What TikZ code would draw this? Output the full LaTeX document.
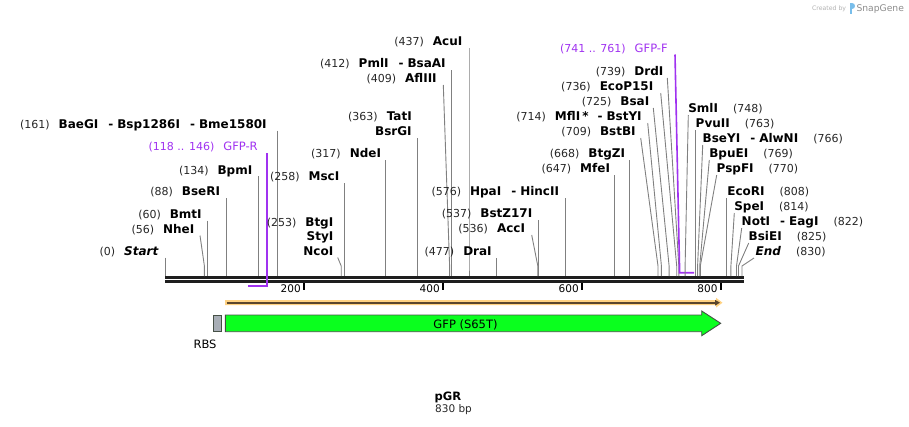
\documentclass[tikz,border=0pt]{standalone}
\usepackage{fontspec}
\setmainfont{DejaVu Sans}
\usetikzlibrary{arrows.meta}
\definecolor{cutgray}{RGB}{128,128,128}
\definecolor{primer}{RGB}{160,50,240}
\definecolor{bbcol}{RGB}{30,30,30}
\definecolor{gfpgreen}{RGB}{10,255,30}
\definecolor{gfpedge}{RGB}{70,80,70}
\definecolor{orangebar}{RGB}{255,210,130}
\definecolor{brownline}{RGB}{90,70,45}
\definecolor{rbsgray}{RGB}{168,174,182}
\definecolor{logoblue}{RGB}{120,190,235}
\newcommand\numfont{\fontsize{11}{13}\selectfont\color{black!85}}
\newcommand\namefont{\fontsize{12}{14}\selectfont\bfseries}
\newcommand\sepr{\hspace{10pt}-\hspace{4pt}}
\newcommand\labL[5]{\node[lab,anchor=base east] (#1) at (#2,#3) {{\numfont(#4)}\hspace{9pt}{\namefont #5}};}
\newcommand\labR[5]{\node[lab,anchor=base west] (#1) at (#2,#3) {{\namefont #4}\hspace{15pt}{\numfont(#5)}};}
\newcommand\cutline[4]{\coordinate (#1-t) at (#2,#3); \coordinate (#1-b) at (#4,266); \coordinate (#1-s) at (#4,276); \draw[cut] (#1-t) -- (#1-b) -- (#1-s);}
\begin{document}
\begin{tikzpicture}[x=1pt,y=-1pt,
  lab/.style={inner sep=0pt,outer sep=0pt},
  cut/.style={draw=cutgray,line width=0.9pt},
  prim/.style={draw=primer,line width=1.6pt},
  bbline/.style={draw=bbcol},
  tickmark/.style={draw=black,line width=2pt}]
\useasboundingbox (0,0) rectangle (909,426);

% logo
\node[lab,anchor=base west,text=black!30] (cb) at (812,10.5) {\fontsize{6.2}{7}\selectfont Created by};
\fill[logoblue] (849.5,3) rectangle (852.3,13.5);
\fill[logoblue] (852.3,3) .. controls (856,3) and (856,8.5) .. (852.3,8.5) -- cycle;
\node[lab,anchor=base west,text=black!45] (sg) at (856.5,11.5) {\fontsize{9.2}{10}\selectfont SnapGene};

% backbone
\coordinate (bb1l) at (165,277.3); \coordinate (bb1r) at (744,277.3);
\coordinate (bb2l) at (165,281.5); \coordinate (bb2r) at (744,281.5);
\draw[bbline,line width=2.7pt] (bb1l) -- (bb1r);
\draw[bbline,line width=2.4pt] (bb2l) -- (bb2r);

% ticks
\foreach \v/\xx in {200/304.2,400/443.2,600/582.2,800/721.0}{
  \coordinate (tk\v a) at (\xx,283); \coordinate (tk\v b) at (\xx,289.5);
  \draw[tickmark] (tk\v a) -- (tk\v b);
  \node[lab,anchor=base east] (tl\v) at (\xx-3.5,292.5) {\fontsize{10.5}{12}\selectfont \v};
}

% left labels
\labL{start}{158.3}{255.7}{0}{\itshape Start}
\cutline{start}{165.5}{257.5}{165.5}
\labL{nhe}{194.3}{233.3}{56}{NheI}
\cutline{nhe}{200}{235.5}{204.4}
\labL{bmt}{201.7}{218.3}{60}{BmtI}
\cutline{bmt}{207.2}{220.5}{207.2}
\labL{bser}{220}{195.7}{88}{BseRI}
\cutline{bser}{226.6}{198}{226.6}
\labL{bpm}{252.3}{174}{134}{BpmI}
\cutline{bpm}{258.6}{176}{258.6}
\labL{baeg}{266.7}{128.3}{161}{BaeGI\sepr Bsp1286I\sepr Bme1580I}
\cutline{baeg}{277.3}{130.5}{277.3}

% GFP-R primer
\node[lab,anchor=base east,text=primer] (gfpr) at (257.7,150.7) {{\fontsize{11}{13}\selectfont(118 .. 146)}\hspace{9pt}{\fontsize{11.5}{13}\selectfont GFP-R}};
\coordinate (gfpr-t) at (266.7,153.3); \coordinate (gfpr-c) at (266.7,286); \coordinate (gfpr-e) at (247.5,286);
\draw[prim] (gfpr-t) -- (gfpr-c) -- (gfpr-e);

\labL{btg}{333.3}{226}{253}{BtgI}
\node[lab,anchor=base east] (sty) at (333.3,240.7) {\namefont StyI};
\node[lab,anchor=base east] (nco) at (333.3,255.7) {\namefont NcoI};
\cutline{nco}{337.7}{257.5}{341.2}
\labL{msc}{339.3}{180.7}{258}{MscI}
\cutline{msc}{344.7}{183}{344.7}
\labL{nde}{381}{157.7}{317}{NdeI}
\cutline{nde}{385.7}{160}{385.7}
\labL{tat}{411.7}{120.7}{363}{TatI}
\node[lab,anchor=base east] (bsrg) at (411.7,135.7) {\namefont BsrGI};
\cutline{bsrg}{417.6}{138}{417.6}
\labL{afl}{436.7}{82.7}{409}{AflIII}
\cutline{afl}{443.3}{85}{449.6}
\labL{pml}{445.7}{67.7}{412}{PmlI\sepr BsaAI}
\cutline{pml}{451.7}{70}{451.7}
\labL{acu}{462.3}{45.7}{437}{AcuI}
\cutline{acu}{469}{48}{469}
\labL{dra}{491.7}{255.7}{477}{DraI}
\cutline{dra}{496.8}{258}{496.8}
\labL{acc}{525}{232.7}{536}{AccI}
\cutline{acc}{531.7}{235}{537.8}
\labL{bstz}{532.3}{217.3}{537}{BstZ17I}
\cutline{bstz}{538.5}{220}{538.5}
\labL{hpa}{559}{195.7}{576}{HpaI\sepr HincII}
\cutline{hpa}{565.6}{198}{565.6}
\labL{mfe}{610}{172.3}{647}{MfeI}
\cutline{mfe}{614.9}{175}{614.9}
\labL{btgz}{625}{157.3}{668}{BtgZI}
\cutline{btgz}{629.5}{160}{629.5}
\labL{bstb}{635.7}{135.7}{709}{BstBI}
\cutline{bstb}{640.7}{138}{658}
\labL{mfl}{641.7}{120.7}{714}{MflI\,*\hspace{9pt}-\hspace{4pt}BstYI}
\cutline{mfl}{647.7}{123}{661.4}
\labL{bsa}{649.3}{105.7}{725}{BsaI}
\cutline{bsa}{653.3}{108}{669.1}
\labL{ecop}{653.3}{90.7}{736}{EcoP15I}
\cutline{ecop}{660.7}{93}{676.7}
\labL{drd}{663.3}{75.7}{739}{DrdI}
\cutline{drd}{667.3}{78}{678.8}

% GFP-F primer
\node[lab,anchor=base east,text=primer] (gfpf) at (667.7,52.3) {{\fontsize{11}{13}\selectfont(741 .. 761)}\hspace{9pt}{\fontsize{11.5}{13}\selectfont GFP-F}};
\coordinate (gfpf-t) at (675,54.5); \coordinate (gfpf-b) at (679.5,266); \coordinate (gfpf-c) at (679.5,272.7); \coordinate (gfpf-e) at (694,272.7);
\draw[prim] (gfpf-t) -- (gfpf-b) -- (gfpf-c) -- (gfpf-e);

% right labels
\labR{sml}{688.3}{112.3}{SmlI}{748}
\cutline{sml}{688.3}{115}{685.1}
\labR{pvu}{695.7}{127.3}{PvuII}{763}
\cutline{pvu}{695.5}{130}{695.5}
\labR{bsey}{702.7}{142.3}{BseYI\sepr AlwNI}{766}
\cutline{bsey}{702.7}{145}{697.6}
\labR{bpue}{709.3}{157.3}{BpuEI}{769}
\cutline{bpue}{709.3}{160}{699.7}
\labR{pspf}{716.7}{172.3}{PspFI}{770}
\cutline{pspf}{716.7}{175}{700.3}
\labR{ecor}{727.3}{195.7}{EcoRI}{808}
\cutline{ecor}{726.7}{198}{726.7}
\labR{spe}{734.3}{210.7}{SpeI}{814}
\cutline{spe}{734.3}{213}{730.9}
\labR{not}{741.7}{225.7}{NotI\sepr EagI}{822}
\cutline{not}{741.7}{228}{736.5}
\labR{bsie}{748.7}{240.7}{BsiEI}{825}
\cutline{bsie}{748.7}{243}{738.5}
\labR{endl}{755.7}{255.7}{\itshape End}{830}
\cutline{endl}{754}{258}{742}

% orange ORF arrow
\fill[orangebar] (225,300.2) -- (716,300.2) -- (716,297.8) -- (722.5,302.7) -- (716,307.6) -- (716,305.2) -- (225,305.2) -- cycle;
\coordinate (orfa) at (226.5,302.7); \coordinate (orfb) at (720,302.7);
\draw[brownline,line width=1.8pt,-{Triangle[length=5pt,width=5.5pt]}] (orfa) -- (orfb);

% RBS
\draw[fill=rbsgray,draw=gfpedge,line width=0.9pt] (213.3,315.3) rectangle (221.3,331.3);
\node[lab,anchor=base] (rbs) at (205,348.3) {\fontsize{11.5}{13}\selectfont RBS};

% GFP feature
\draw[fill=gfpgreen,draw=gfpedge,line width=0.9pt] (225.3,315) -- (701.7,315) -- (701.7,311) -- (720.7,323.3) -- (701.7,335.7) -- (701.7,331.7) -- (225.3,331.7) -- cycle;
\node[lab,anchor=base] (gfp) at (465.5,328) {\fontsize{11.5}{13}\selectfont GFP (S65T)};

% title
\node[lab,anchor=base] (title) at (448,400.7) {\fontsize{11.5}{13}\selectfont\bfseries pGR};
\node[lab,anchor=base] (size) at (453.5,412.3) {\fontsize{10.5}{12}\selectfont\color{black!85}830 bp};
\end{tikzpicture}
\end{document}
